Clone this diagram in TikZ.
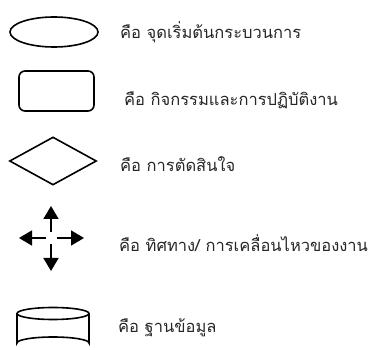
\documentclass[tikz,border=0pt]{standalone}
\usepackage{fontspec}
\newfontfamily\thaifont[Script=Thai]{Loma}
\usetikzlibrary{shapes.geometric,arrows.meta}
\begin{document}
\begin{tikzpicture}[x=1pt,y=-1pt,
  shp/.style={draw,line width=1.6pt,inner sep=0pt},
  lbl/.style={anchor=west,inner sep=0pt,text=black!85,font=\thaifont\fontsize{16.5}{20}\selectfont},
  arr/.style={line width=1.6pt,-{Triangle[length=13pt,width=15pt]}}]
\useasboundingbox (0,0) rectangle (373,350);
\node[shp,ellipse,minimum width=88pt,minimum height=30pt] (start) at (54,32) {};
\node[lbl] (t1) at (120,32) {คือ จุดเริ่มต้นกระบวนการ};
\node[shp,rectangle,rounded corners=6pt,minimum width=75pt,minimum height=40pt] (act) at (56.5,91) {};
\node[lbl] (t2) at (124,100) {คือ กิจกรรมและการปฏิบัติงาน};
\node[shp,diamond,aspect=1.8,minimum width=87pt,minimum height=48pt] (dec) at (53,161) {};
\node[lbl] (t3) at (120,164) {คือ การตัดสินใจ};
\coordinate (c) at (51,238);
\coordinate (cu) at (51,232);
\coordinate (cd) at (51,244);
\coordinate (cl) at (46,238);
\coordinate (cr) at (57,238);
\coordinate (tu) at (51,206);
\coordinate (td) at (51,271);
\coordinate (tl) at (19,238);
\coordinate (tr) at (84,238);
\draw[arr] (cu) -- (tu);
\draw[arr] (cd) -- (td);
\draw[arr] (cl) -- (tl);
\draw[arr] (cr) -- (tr);
\node[lbl] (t4) at (119,243) {คือ ทิศทาง/ การเคลื่อนไหวของงาน};
% database cylinder
\coordinate (dbtop) at (53,313.5);
\draw[line width=1.6pt] (dbtop) ellipse [x radius=36, y radius=6];
\draw[line width=1.6pt] (17,313.5) -- (17,343) arc[start angle=180,end angle=360,x radius=36,y radius=6] -- (89,313.5);
\node[lbl] (t5) at (118,328) {คือ ฐานข้อมูล};
\end{tikzpicture}
\end{document}
